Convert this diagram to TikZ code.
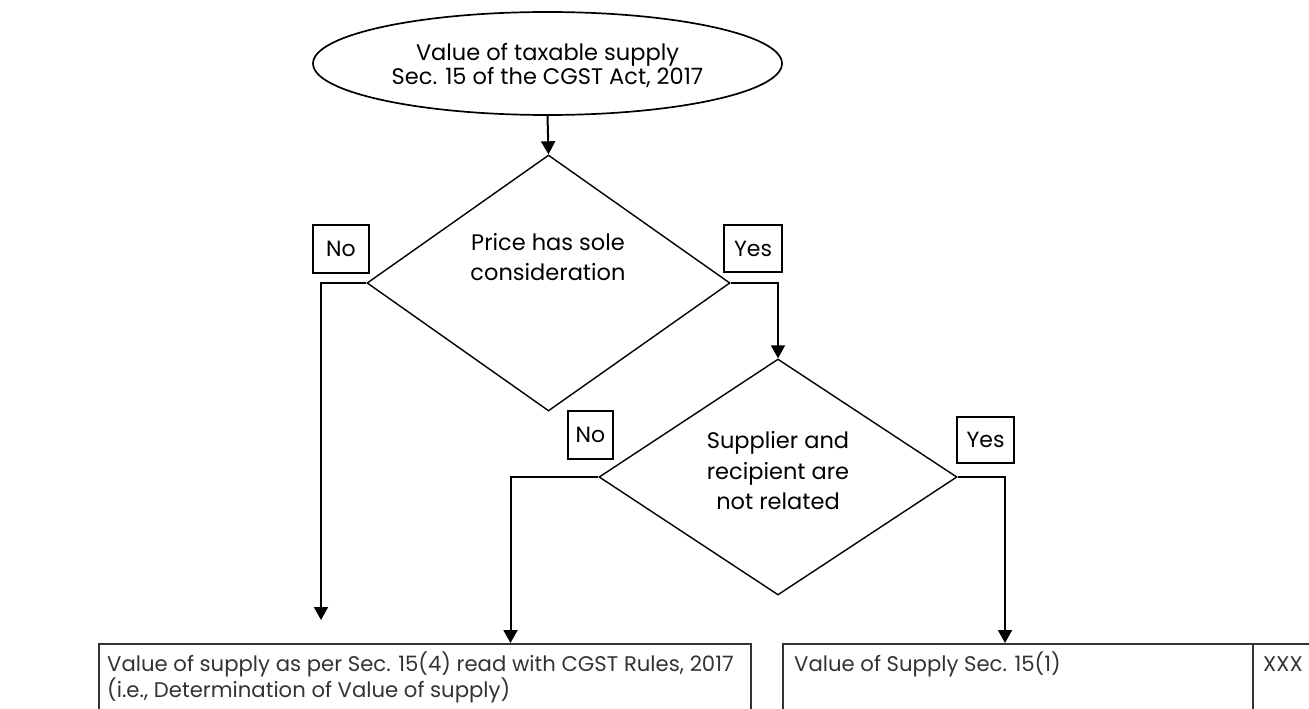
\documentclass[tikz,border=0pt]{standalone}
\usepackage{fontspec}
\setmainfont{Poppins}
\usetikzlibrary{shapes.geometric,arrows.meta}
\definecolor{boxgray}{HTML}{333333}
\tikzset{
  conn/.style={line width=2pt,-{Triangle[width=14pt,length=13pt]}},
  txt/.style={align=center,inner sep=0pt,font=\fontsize{22.5}{24}\selectfont},
  dtxt/.style={align=center,inner sep=0pt,font=\fontsize{22.5}{30.5}\selectfont},
  lbl/.style={draw,line width=1.4pt,inner sep=0pt,font=\fontsize{22}{24}\selectfont},
  dia/.style={diamond,draw,line width=1.4pt,inner sep=0pt},
  outbox/.style={draw=boxgray,line width=2pt,inner sep=0pt,anchor=north west},
  otxt/.style={text=boxgray,align=left,inner sep=0pt,anchor=base west,font=\fontsize{21.2}{26}\selectfont}
}
\begin{document}
\begin{tikzpicture}[x=1pt,y=-1pt]
\clip (0,0) rectangle (1309,709);
\fill[white] (0,0) rectangle (1309,709);
% start ellipse
\node[ellipse,draw,line width=1.7pt,minimum width=469pt,minimum height=103pt,inner sep=0pt] (start) at (547.5,63.5) {};
\node[txt] (starttext) at (547.5,66) {Value of taxable supply\\Sec. 15 of the CGST Act, 2017};
% decision 1
\node[dia,minimum width=363pt,minimum height=256pt] (d1) at (548.5,283) {};
\node[dtxt] (d1text) at (548,257) {Price has sole\\consideration};
% decision 2
\node[dia,minimum width=358pt,minimum height=236pt] (d2) at (778,477) {};
\node[dtxt] (d2text) at (778,471) {Supplier and\\recipient are\\not related};
% labels
\node[lbl,minimum width=56pt,minimum height=48pt] (no1) at (341,249) {No};
\node[lbl,minimum width=58pt,minimum height=47pt] (yes1) at (753,248.5) {Yes};
\node[lbl,minimum width=45pt,minimum height=48pt] (no2) at (590.5,435) {No};
\node[lbl,minimum width=57pt,minimum height=46pt] (yes2) at (985.5,440) {Yes};
% output boxes
\node[outbox,minimum width=652pt,minimum height=90pt] (L) at (98,643) {};
\node[outbox,minimum width=470pt,minimum height=90pt] (R) at (782,643) {};
\node[outbox,minimum width=80pt,minimum height=90pt] (X) at (1252,643) {};
\node[otxt] (Ltext) at (107,697) {Value of supply as per Sec. 15(4) read with CGST Rules, 2017\\(i.e., Determination of Value of supply)};
\node[otxt] (Rtext) at (794,671) {Value of Supply Sec. 15(1)};
\node[otxt] (Xtext) at (1263,671) {XXX};
% end points
\coordinate (a1) at (321,620);
\coordinate (a2) at (510.5,643);
\coordinate (a3) at (1005,643);
% connectors
\draw[conn] (start.south) -- (d1.north);
\draw[conn] (d1.west) -| (a1);
\draw[conn] (d1.east) -| (d2.north);
\draw[conn] (d2.west) -| (a2);
\draw[conn] (d2.east) -| (a3);
\end{tikzpicture}
\end{document}
